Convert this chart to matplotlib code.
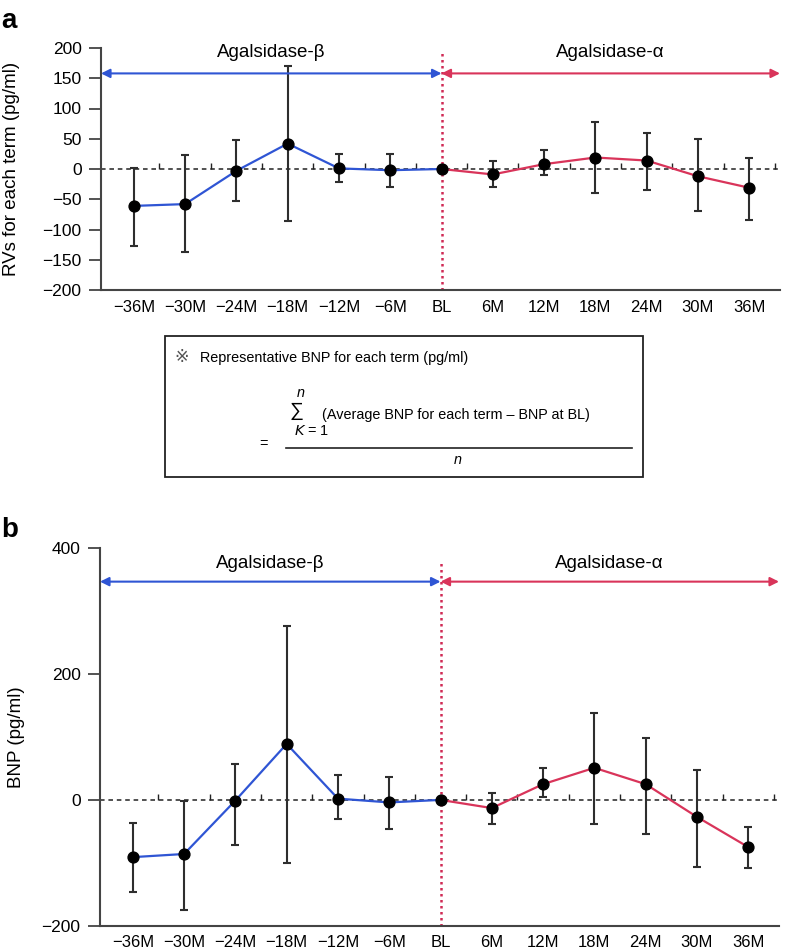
import matplotlib
matplotlib.use("Agg")
import matplotlib.pyplot as plt
from matplotlib.patches import Rectangle
from matplotlib.lines import Line2D

plt.rcParams['font.family'] = ['Liberation Sans', 'DejaVu Sans', 'Noto Sans CJK JP']

terms = ['\u221236M', '\u221230M', '\u221224M', '\u221218M', '\u221212M', '\u22126M',
         'BL', '6M', '12M', '18M', '24M', '30M', '36M']
bl = terms.index('BL')

# panel a: representative values for each term
rv_mean = [-61, -58, -3, 42, 1, -2, 0, -9, 8, 19, 14, -12, -31]
rv_upper = [1, 23, 48, 170, 25, 25, 0, 13, 31, 77, 60, 49, 19]
rv_lower = [-127, -138, -53, -86, -21, -30, 0, -29, -10, -40, -35, -69, -85]

# panel b: BNP
bnp_mean = [-91, -86, -1, 89, 2, -4, 0, -13, 25, 51, 25, -27, -75]
bnp_upper = [-37, -1, 57, 277, 40, 37, 0, 11, 50, 138, 99, 48, -43]
bnp_lower = [-147, -175, -72, -100, -31, -46, 0, -38, 5, -38, -54, -106, -108]

blue = '#2f55d4'
red = '#d9345a'
spine_col = '#444444'
xlim = (-0.64, 12.6)

W, H = 789, 951
fig = plt.figure(figsize=(W / 100, H / 100), dpi=100)


def fx(px):
    return px / W


def fy(py):
    return 1 - py / H


def draw_panel(ax, mean, upper, lower, ylim, yticks, arrow_y, label_y, vtop, ylabel):
    x = list(range(len(terms)))
    ax.set_xlim(*xlim)
    ax.set_ylim(*ylim)

    ax.axhline(0, color='#222222', ls=(0, (3, 2.5)), lw=1.1, zorder=1)
    ax.plot([i + 0.5 for i in x], [0] * len(x), ls='none', marker=2, ms=4,
            mew=1, color='#222222', zorder=1)

    ax.plot(x[:bl + 1], mean[:bl + 1], color=blue, lw=1.6, zorder=3)
    ax.plot(x[bl:], mean[bl:], color=red, lw=1.6, zorder=3)

    idx = [i for i in x if i != bl]
    m = [mean[i] for i in idx]
    err = [[mean[i] - lower[i] for i in idx], [upper[i] - mean[i] for i in idx]]
    ax.errorbar(idx, m, yerr=err, fmt='none', ecolor='#2e2e2e', elinewidth=1.5,
                capsize=3.2, capthick=1.5, zorder=2)
    ax.plot(x, mean, 'o', color='black', ms=7.8, zorder=4)

    ax.plot([bl, bl], [ylim[0], vtop], color='#d02a55', ls=(0, (1, 1.4)), lw=1.8, zorder=2,
            clip_on=False)

    ax.annotate('', xy=(xlim[0], arrow_y), xytext=(bl, arrow_y),
                arrowprops=dict(arrowstyle='<|-|>', color=blue, lw=1.5,
                                shrinkA=0, shrinkB=0, mutation_scale=13))
    ax.annotate('', xy=(bl, arrow_y), xytext=(xlim[1], arrow_y),
                arrowprops=dict(arrowstyle='<|-|>', color=red, lw=1.5,
                                shrinkA=0, shrinkB=0, mutation_scale=13))
    ax.text((xlim[0] + bl) / 2, label_y, 'Agalsidase-\u03b2', ha='center', va='center',
            fontsize=13.5)
    ax.text((xlim[1] + bl) / 2, label_y, 'Agalsidase-\u03b1', ha='center', va='center',
            fontsize=13.5)

    for s in ['top', 'right']:
        ax.spines[s].set_visible(False)
    for s in ['left', 'bottom']:
        ax.spines[s].set_color(spine_col)
        ax.spines[s].set_linewidth(1.5)
    ax.set_xticks(x)
    ax.set_xticklabels(terms)
    ax.set_yticks(yticks)
    ax.set_yticklabels([str(t).replace('-', '\u2212') for t in yticks])
    ax.tick_params(axis='x', length=0, pad=7, labelsize=12)
    ax.tick_params(axis='y', length=9, width=1.3, color=spine_col, labelsize=12.5, pad=5)
    ax.set_ylabel(ylabel, fontsize=13.5)


ax_a = fig.add_axes([fx(101), fy(290), fx(780) - fx(101), fy(48) - fy(290)])
draw_panel(ax_a, rv_mean, rv_upper, rv_lower, (-200, 200), list(range(-200, 201, 50)),
           158, 193, 195, 'RVs for each term (pg/ml)')
ax_a.yaxis.set_label_coords(-0.119, 0.5)

ax_b = fig.add_axes([fx(100), fy(925.7), fx(779) - fx(100), fy(548.3) - fy(925.7)])
draw_panel(ax_b, bnp_mean, bnp_upper, bnp_lower, (-200, 400), [-200, 0, 200, 400],
           347, 376, 381, 'BNP (pg/ml)')
ax_b.yaxis.set_label_coords(-0.110, 0.5)

fig.text(fx(1), fy(28), 'a', fontsize=20, fontweight='bold', ha='left', va='baseline')
fig.text(fx(1), fy(537), 'b', fontsize=20, fontweight='bold', ha='left', va='baseline')

# formula box
fig.patches.append(Rectangle((fx(165), fy(476.7)), fx(642.7) - fx(165), fy(336) - fy(476.7),
                             transform=fig.transFigure, fill=False, lw=1.3, ec='#222222'))
fs_box = 10.4
fig.text(fx(182), fy(358), '\u203b', fontsize=fs_box + 2, ha='center', va='center',
         color='#555555')
fig.text(fx(200), fy(358), 'Representative BNP for each term (pg/ml)', fontsize=fs_box,
         ha='left', va='center')
fig.text(fx(300.5), fy(393), 'n', fontsize=fs_box, style='italic', ha='center', va='center')
fig.text(fx(296), fy(411), '\u2211', fontsize=14, ha='center', va='center')
fig.text(fx(322), fy(415), '(Average BNP for each term \u2013 BNP at BL)', fontsize=fs_box,
         ha='left', va='center')
fig.text(fx(294), fy(431), '$K$ = 1', fontsize=fs_box, ha='left', va='center')
fig.text(fx(263), fy(444), '=', fontsize=fs_box, ha='center', va='center')
fig.lines.append(Line2D([fx(286), fx(632)], [fy(447.7), fy(447.7)], transform=fig.transFigure,
                        color='#222222', lw=1.2))
fig.text(fx(458), fy(460), 'n', fontsize=fs_box, style='italic', ha='center', va='center')

fig.savefig('out.png', dpi=100)
